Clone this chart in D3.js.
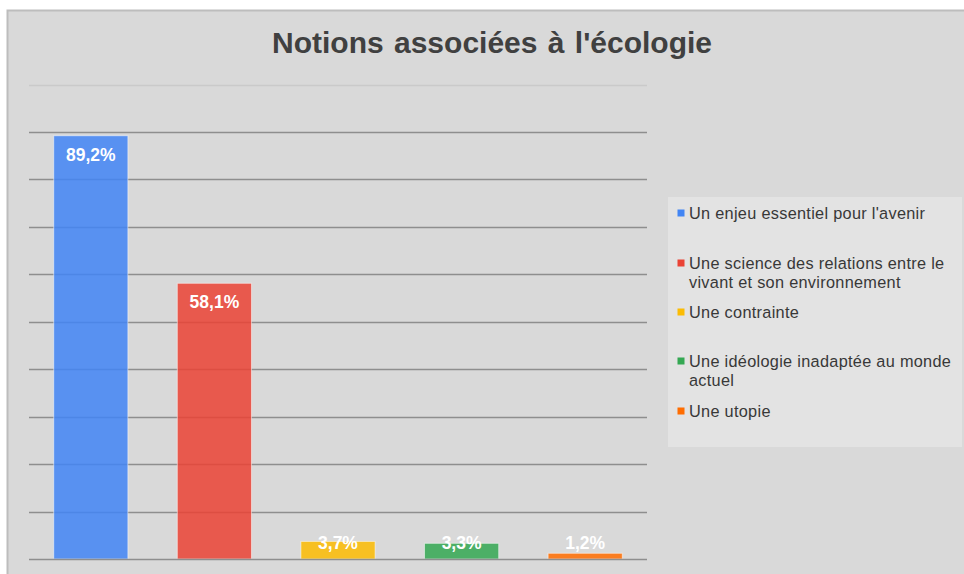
<!DOCTYPE html>
<html><head><meta charset="utf-8">
<script src="https://cdn.jsdelivr.net/npm/d3@7"></script>
<style>body{margin:0;background:#fff;}svg{display:block;font-family:"Liberation Sans",Arial,sans-serif;}</style>
</head><body>
<svg id="c" width="964" height="574"></svg>
<script>
const title = "Notions associées à l'écologie";
const categories = ["Un enjeu essentiel pour l'avenir","Une science des relations entre le vivant et son environnement","Une contrainte","Une idéologie inadaptée au monde actuel","Une utopie"];
const values = [89.2, 58.1, 3.7, 3.3, 1.2];
const valueLabels = ["89,2%","58,1%","3,7%","3,3%","1,2%"];
const colors = ["#4285f4","#ea4335","#fbbc04","#34a853","#ff6d01"];
const gridTicks = [10,20,30,40,50,60,70,80,90,100];
const legendLines = [["Un enjeu essentiel pour l'avenir"],["Une science des relations entre le","vivant et son environnement"],["Une contrainte"],["Une idéologie inadaptée au monde","actuel"],["Une utopie"]];

const svg = d3.select("#c");
svg.append("rect").attr("x",7.5).attr("y",10.5).attr("width",980).attr("height",600)
  .attr("fill","#d9d9d9").attr("stroke","#bdbdbd").attr("stroke-width",2);

svg.append("text").attr("x",492).attr("y",53).attr("text-anchor","middle")
  .attr("font-size",30).attr("font-weight","bold").attr("fill","#404040")
  .attr("word-spacing",2).text(title);

const x = d3.scaleBand().domain(categories).range([29,647]).paddingInner(0.4).paddingOuter(0.2);
const y = d3.scaleLinear().domain([0,100]).range([559,84.5]);

const g = svg.append("g");
g.selectAll("line.grid").data(gridTicks).join("line")
  .attr("x1",29).attr("x2",647).attr("y1",d=>Math.round(y(d))+0.5).attr("y2",d=>Math.round(y(d))+0.5)
  .attr("stroke",d=>d===100?"#cacaca":"#8e8e8e").attr("stroke-width",d=>d===100?1.5:1.6);

const axis = d3.axisBottom(x).tickSize(0).tickFormat("");
const ax = svg.append("g").attr("transform","translate(0,559.5)").call(axis);
ax.select(".domain").attr("stroke","#8e8e8e").attr("stroke-width",1.6).attr("d","M29,0H647");

g.selectAll("rect.bar").data(values).join("rect")
  .attr("x",(d,i)=>x(categories[i])).attr("width",x.bandwidth())
  .attr("y",d=>y(d)).attr("height",d=>y(0)-y(d))
  .attr("fill",(d,i)=>colors[i]).attr("fill-opacity",0.86)
  .attr("stroke","#ffffff").attr("stroke-opacity",0.5).attr("stroke-width",1);

g.selectAll("text.lbl").data(values).join("text")
  .attr("x",(d,i)=>x(categories[i])+x.bandwidth()/2)
  .attr("y",d=>Math.min(y(d)+25,549))
  .attr("text-anchor","middle").attr("font-size",17.5).attr("font-weight","bold")
  .attr("fill","#ffffff").text((d,i)=>valueLabels[i]);

// legend
svg.append("rect").attr("x",668).attr("y",197).attr("width",294).attr("height",250).attr("fill","#e3e3e3");
const leg = svg.append("g");
const baseY = [219,269,318,367,417];
legendLines.forEach((lines,i)=>{
  leg.append("rect").attr("x",677.5).attr("y",baseY[i]-9.5).attr("width",7).attr("height",7).attr("fill",colors[i]);
  const t = leg.append("text").attr("x",689).attr("y",baseY[i]).attr("font-size",16.3)
    .attr("letter-spacing",0.3).attr("fill","#383838");
  lines.forEach((l,j)=>t.append("tspan").attr("x",689).attr("dy",j===0?0:19).text(l));
});
</script>
</body></html>
